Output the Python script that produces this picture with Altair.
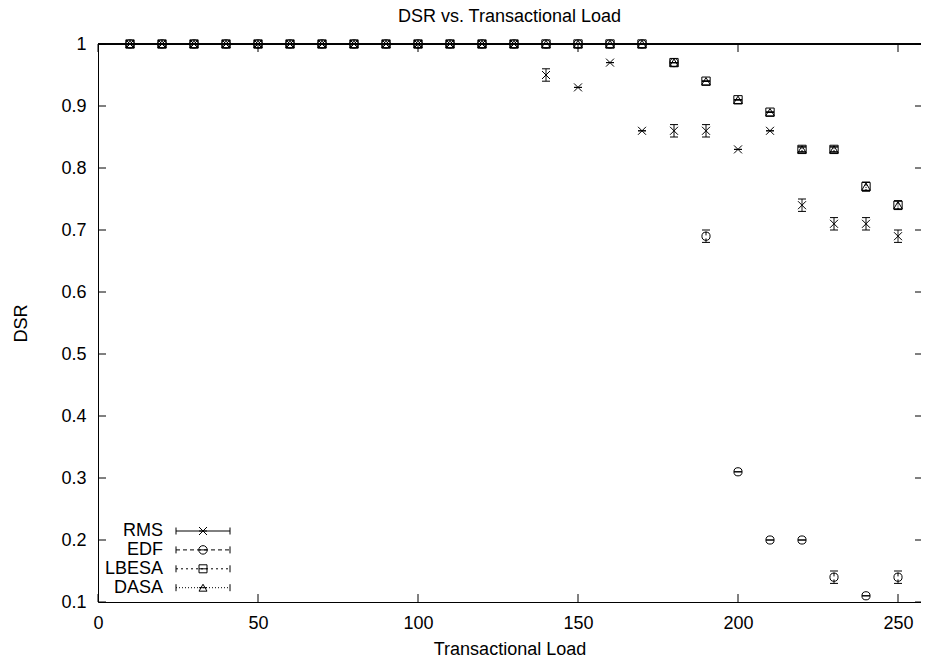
import altair as alt
import pandas as pd

# ---------------- data ----------------
loads = [10, 20, 30, 40, 50, 60, 70, 80, 90, 100, 110, 120, 130,
         140, 150, 160, 170, 180, 190, 200, 210, 220, 230, 240, 250]

rms = [1.0] * 13 + [0.95, 0.93, 0.97, 0.86, 0.86, 0.86, 0.83, 0.86, 0.74, 0.71, 0.71, 0.69]
rms_err = [0.0] * 13 + [0.01, 0.0, 0.0, 0.0, 0.01, 0.01, 0.0, 0.0, 0.01, 0.01, 0.01, 0.01]

edf = [1.0] * 17 + [0.97, 0.69, 0.31, 0.20, 0.20, 0.14, 0.11, 0.14]
edf_err = [0.0] * 17 + [0.0, 0.01, 0.0, 0.0, 0.0, 0.01, 0.0, 0.01]

lbesa = [1.0] * 17 + [0.97, 0.94, 0.91, 0.89, 0.83, 0.83, 0.77, 0.74]
lbesa_err = [0.0] * 17 + [0.0, 0.0, 0.0, 0.0, 0.004, 0.004, 0.007, 0.007]

dasa = [1.0] * 17 + [0.97, 0.94, 0.91, 0.89, 0.83, 0.83, 0.77, 0.74]
dasa_err = [0.0] * 17 + [0.0, 0.0, 0.0, 0.0, 0.004, 0.004, 0.007, 0.007]

series_names = ["RMS", "EDF", "LBESA", "DASA"]
x_ticks = [0, 50, 100, 150, 200, 250]
y_ticks = [0.1, 0.2, 0.3, 0.4, 0.5, 0.6, 0.7, 0.8, 0.9, 1.0]

# ---------------- styles ----------------
W, H = 823, 558
X_MAX = 823 / 3.2  # keeps 3.2 px per unit, axis frame runs off the right edge
FONT = "Liberation Sans"
FS = 18
CROSS = "M-1,-1L1,1M-1,1L1,-1"
HCAP = "M-1,0L1,0"
shapes = [CROSS, "circle", "square", "triangle-up"]
sizes = [64, 72, 64, 64]
dashes = [[1, 0], [4, 3], [2, 3], [1, 2]]

rows = []
for name, vals, errs in zip(series_names, [rms, edf, lbesa, dasa],
                            [rms_err, edf_err, lbesa_err, dasa_err]):
    for x, v, e in zip(loads, vals, errs):
        rows.append(dict(series=name, load=x, dsr=v, lo=v - e, hi=v + e))
df = pd.DataFrame(rows)

xscale = alt.Scale(domain=[0, X_MAX], nice=False, zero=False)
yscale = alt.Scale(domain=[0.1, 1.0], nice=False, zero=False)
xaxis = alt.Axis(values=x_ticks, title="Transactional Load", ticks=False, grid=False,
                 labelPadding=12, titlePadding=8, domainColor="black", labelFlush=False,
                 labelOverlap=False)
yaxis = alt.Axis(values=y_ticks, title="DSR", ticks=False, grid=False, format=".1~f",
                 labelPadding=12, titlePadding=30, domainColor="black", labelFlush=False,
                 labelOverlap=False)


def X(field):
    return alt.X(f"{field}:Q", scale=xscale, axis=xaxis)


def Y(field):
    return alt.Y(f"{field}:Q", scale=yscale, axis=yaxis)


shape_enc = alt.Shape("series:N", scale=alt.Scale(domain=series_names, range=shapes), legend=None)
size_enc = alt.Size("series:N", scale=alt.Scale(domain=series_names, range=sizes), legend=None)
dash_enc = alt.StrokeDash("series:N", scale=alt.Scale(domain=series_names, range=dashes), legend=None)

base = alt.Chart(df)

errbars = base.mark_rule(color="black", strokeWidth=1).encode(
    x=X("load"), y=Y("lo"), y2="hi:Q", strokeDash=dash_enc)
cap_lo = base.mark_point(shape=HCAP, size=64, color="black", filled=False, strokeWidth=1,
                         opacity=1).encode(x=X("load"), y=Y("lo"))
cap_hi = base.mark_point(shape=HCAP, size=64, color="black", filled=False, strokeWidth=1,
                         opacity=1).encode(x=X("load"), y=Y("hi"))
points = base.mark_point(color="black", filled=False, strokeWidth=1, opacity=1).encode(
    x=X("load"), y=Y("dsr"), shape=shape_enc, size=size_enc)

# frame ticks (inward, mirrored)
xt = pd.DataFrame({"t": x_ticks})
yt = pd.DataFrame({"t": y_ticks})
xt_bottom = alt.Chart(xt).mark_rule(color="black").encode(
    x=X("t"), y=alt.value(H - 8), y2=alt.value(H))
xt_top = alt.Chart(xt).mark_rule(color="black").encode(
    x=X("t"), y=alt.value(0), y2=alt.value(8))
yt_left = alt.Chart(yt).mark_rule(color="black").encode(
    y=Y("t"), x=alt.value(0), x2=alt.value(8))
yt_right = alt.Chart(yt).mark_rule(color="black").encode(
    y=Y("t"), x=alt.value(W - 6), x2=alt.value(W))
top_line = alt.Chart(xt).mark_rule(color="black").encode(
    y=alt.value(0), x=alt.value(0), x2=alt.value(W))

# legend (gnuplot style: label left, sample line right)
legend_df = pd.DataFrame({"series": series_names})
legend_layers = []
for i, name in enumerate(series_names):
    yp = 487 + 18.9 * i
    lc = alt.Chart(legend_df).transform_filter(alt.datum.series == name)
    legend_layers.append(lc.mark_text(align="right", baseline="middle", font=FONT,
                                      fontSize=FS, color="black").encode(
        x=alt.value(65), y=alt.value(yp), text="series:N"))
    legend_layers.append(lc.mark_rule(color="black", strokeDash=dashes[i]).encode(
        x=alt.value(78), x2=alt.value(132), y=alt.value(yp)))
    for xc in (78, 132):
        legend_layers.append(lc.mark_rule(color="black").encode(
            x=alt.value(xc), y=alt.value(yp - 3.5), y2=alt.value(yp + 3.5)))
    legend_layers.append(lc.mark_point(shape=shapes[i], size=sizes[i], color="black",
                                       filled=False, strokeWidth=1, opacity=1).encode(
        x=alt.value(105), y=alt.value(yp)))
    legend_layers.append(lc.mark_point(shape=HCAP, size=64, color="black", filled=False,
                                       strokeWidth=1, opacity=1).encode(
        x=alt.value(105), y=alt.value(yp)))

chart = alt.layer(
    points, errbars, cap_lo, cap_hi,
    xt_bottom, xt_top, yt_left, yt_right, top_line,
    *legend_layers
).properties(
    width=W, height=H,
    background="white",
    title=alt.TitleParams("DSR vs. Transactional Load", font=FONT, fontSize=FS,
                          fontWeight="normal", color="black", anchor="middle", offset=9),
    autosize=alt.AutoSizeParams(type="none"),
    padding={"left": 90, "top": 36, "right": 0, "bottom": 58},
).configure_view(
    stroke=None
).configure_axis(
    labelFont=FONT, labelFontSize=FS, labelColor="black",
    titleFont=FONT, titleFontSize=FS, titleFontWeight="normal", titleColor="black",
    domainColor="black", domainWidth=1
)

chart.save("out.html", embed_options={"renderer": "svg", "actions": False})
